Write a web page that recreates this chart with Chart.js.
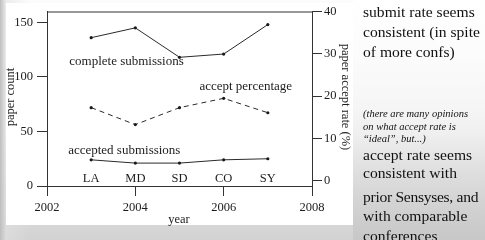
<!DOCTYPE html>
<html>
<head>
<meta charset="utf-8">
<script src="https://cdn.jsdelivr.net/npm/chart.js@4.4.1/dist/chart.umd.min.js"></script>
<style>
  html, body { margin: 0; padding: 0; }
  body {
    width: 485px; height: 240px; position: relative; overflow: hidden;
    background:
      linear-gradient(to right, rgba(190,190,190,1) 0px, rgba(225,225,225,0.6) 6px, rgba(255,255,255,0) 30px),
      linear-gradient(to bottom, #fcfcfc 0%, #f4f4f4 55%, #d2d2d2 100%);
    font-family: "Liberation Serif", "DejaVu Serif", serif;
    color: #111;
  }
  #rightbg {
    position: absolute; left: 353px; top: 0; width: 132px; height: 240px;
    background: linear-gradient(to bottom, rgba(255,255,255,0.9) 0%, rgba(255,255,255,0) 45%, rgba(180,180,180,0.35) 100%);
  }
  #paper {
    position: absolute; left: 6px; top: 3px; width: 347px; height: 222px; background: #fff;
  }
  canvas { position: absolute; left: 0; top: 0; }
  .t { position: absolute; left: 363px; white-space: nowrap; font-family: "Liberation Serif", serif; font-size: 15.6px; line-height: 20px; }
  .i { position: absolute; left: 363px; white-space: nowrap; font-family: "Liberation Serif", serif; font-size: 10.5px; line-height: 12.5px; font-style: italic; }
</style>
</head>
<body>
<div id="rightbg"></div>
<div id="paper"></div>
<canvas id="c" width="485" height="240"></canvas>
<div class="t" style="top:2px">submit rate seems<br>consistent (in spite<br>of more confs)</div>
<div class="i" style="top:108px">(there are many opinions<br>on what accept rate is<br>“ideal”, but...)</div>
<div class="t" style="top:145px">accept rate seems</div>
<div class="t" style="top:163px">consistent with</div>
<div class="t" style="top:187px; letter-spacing:-0.3px">prior Sensyses, and</div>
<div class="t" style="top:206px">with comparable</div>
<div class="t" style="top:226px">conferences</div>
<script>
const years = [2003, 2004, 2005, 2006, 2007];
const conferences = ['LA', 'MD', 'SD', 'CO', 'SY'];
const completeSubmissions = [136, 145, 118, 121, 148];
const acceptedSubmissions = [24, 21, 21, 24, 25];
const acceptPercentage = [17.3, 13.3, 17.3, 19.5, 16.1];
const countTicks = [0, 50, 100, 150];
const rateTicks = [0, 10, 20, 30, 40];
const yearTicks = [2002, 2004, 2006, 2008];
const seriesLabels = ['complete submissions', 'accepted submissions', 'accept percentage'];
const labelPos = [[2003.8, 114.5, 'y'], [2003.75, 32.5, 'y'], [2006.5, 22.3, 'y2']];

const FONT = "'Liberation Serif', 'DejaVu Serif', serif";
const INK = '#1c1c1c';

function pts(vals) { return years.map((x, i) => ({ x: x, y: vals[i] })); }

const ds = (label, vals, axis, dash) => ({
  label: label, data: pts(vals), yAxisID: axis,
  borderColor: '#2a2a2a', backgroundColor: '#1a1a1a', borderWidth: 1,
  borderDash: dash || [], pointRadius: 1.6, pointBorderWidth: 0, tension: 0
});

const annotate = {
  id: 'annotate',
  afterDraw(chart) {
    const ctx = chart.ctx, a = chart.chartArea;
    const xs = chart.scales.x;
    ctx.save();
    ctx.strokeStyle = '#333'; ctx.lineWidth = 1;
    ctx.beginPath(); ctx.moveTo(a.left, a.top + 0.5); ctx.lineTo(a.right, a.top + 0.5); ctx.stroke();
    ctx.fillStyle = INK;
    ctx.font = '12.5px ' + FONT;
    ctx.textAlign = 'center'; ctx.textBaseline = 'middle';
    conferences.forEach((c, i) => ctx.fillText(c, xs.getPixelForValue(years[i]), a.bottom - 7));
    ctx.font = '13px ' + FONT;
    seriesLabels.forEach((s, i) => {
      const p = labelPos[i];
      ctx.fillText(s, xs.getPixelForValue(p[0]), chart.scales[p[2]].getPixelForValue(p[1]));
    });
    ctx.font = '12.5px ' + FONT;
    ctx.fillText('year', 179, 220);
    ctx.save(); ctx.translate(11, 97); ctx.rotate(-Math.PI / 2); ctx.fillText('paper count', 0, 0); ctx.restore();
    ctx.save(); ctx.translate(345, 97); ctx.rotate(Math.PI / 2); ctx.fillText('paper accept rate (%)', 0, 0); ctx.restore();
    ctx.restore();
  }
};

const tickFont = { family: FONT, size: 12.5 };
const gridCfg = { display: true, drawOnChartArea: false, drawTicks: true, tickLength: 10, color: '#333', lineWidth: 1 };
const borderCfg = { display: true, color: '#333', width: 1 };

new Chart(document.getElementById('c'), {
  type: 'line',
  data: { datasets: [
    ds(seriesLabels[0], completeSubmissions, 'y'),
    ds(seriesLabels[1], acceptedSubmissions, 'y'),
    ds(seriesLabels[2], acceptPercentage, 'y2', [5, 4])
  ] },
  options: {
    responsive: false, animation: false,
    layout: { padding: { left: 0, top: 9, right: 133, bottom: 14 } },
    plugins: { legend: { display: false }, tooltip: { enabled: false } },
    scales: {
      x: {
        type: 'linear', min: 2002, max: 2008,
        afterBuildTicks: s => { s.ticks = yearTicks.map(v => ({ value: v })); },
        afterFit: s => { s.height = 40; },
        ticks: { font: tickFont, color: INK, padding: 4, maxRotation: 0, callback: v => String(v) },
        grid: gridCfg, border: borderCfg
      },
      y: {
        type: 'linear', position: 'left', min: 0, max: 160,
        afterBuildTicks: s => { s.ticks = countTicks.map(v => ({ value: v })); },
        afterFit: s => { s.width = 47; },
        ticks: { font: tickFont, color: INK, padding: 4 },
        grid: gridCfg, border: borderCfg
      },
      y2: {
        type: 'linear', position: 'right', min: -1.2, max: 40,
        afterBuildTicks: s => { s.ticks = rateTicks.map(v => ({ value: v })); },
        afterFit: s => { s.width = 40; },
        ticks: { font: tickFont, color: INK, padding: 2 },
        grid: gridCfg, border: borderCfg
      }
    }
  },
  plugins: [annotate]
});
</script>
</body>
</html>
